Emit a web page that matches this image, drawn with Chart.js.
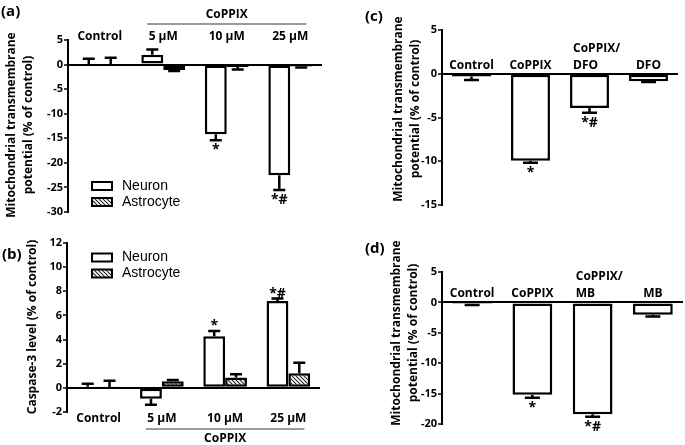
<!DOCTYPE html>
<html>
<head>
<meta charset="utf-8">
<script src="https://cdn.jsdelivr.net/npm/chart.js@4/dist/chart.umd.min.js"></script>
<style>
  html, body { margin: 0; padding: 0; background: #fff; }
  body { width: 685px; height: 445px; position: relative; overflow: hidden; }
  canvas { position: absolute; }
</style>
</head>
<body>
<canvas id="chart-a" width="345" height="220" style="left:0;top:0"></canvas>
<canvas id="chart-b" width="345" height="225" style="left:0;top:220px"></canvas>
<canvas id="chart-c" width="340" height="220" style="left:345px;top:0"></canvas>
<canvas id="chart-d" width="340" height="225" style="left:345px;top:220px"></canvas>
<script>
// (a) mitochondrial potential, neuron vs astrocyte
const concentrations = ['Control', '5 µM', '10 µM', '25 µM']
const mmpNeuron = [0, 2.0, -14.2, -22.5]
const mmpNeuronErr = [1.2, 1.05, 1.2, 3.0]
const mmpNeuronStars = ['', '', '*', '*#']
const mmpAstro = [0, -1.1, -0.5, -0.4]
const mmpAstroErr = [1.4, 0.2, 0.5, 0.2]

// (b) caspase-3
const casNeuron = [0.1, -0.9, 4.28, 7.2]
const casNeuronErr = [0.25, 0.5, 0.44, 0.2]
const casNeuronStars = ['', '', '*', '*#']
const casAstro = [0.08, 0.55, 0.86, 1.2]
const casAstroErr = [0.5, 0.1, 0.27, 0.87]

// (c) DFO
const dfoGroups = ['Control', 'CoPPIX', ['CoPPIX/', 'DFO'], 'DFO']
const dfoValues = [-0.3, -9.94, -3.9, -0.85]
const dfoErr = [0.4, 0.22, 0.55, 0.1]
const dfoStars = ['', '*', '*#', '']

// (d) MB
const mbGroups = ['Control', 'CoPPIX', ['CoPPIX/', 'MB'], 'MB']
const mbValues = [-0.27, -15.2, -18.4, -2.05]
const mbErr = [0.17, 0.5, 0.4, 0.25]
const mbStars = ['', '*', '*#', '']

const mmpTitle = ['Mitochondrial transmembrane', 'potential (% of control)']
const casTitle = ['Caspase-3 level (% of control)']

const BOLD = '"Open Sans", "DejaVu Sans", sans-serif'
const PLAIN = '"Liberation Sans", Arial, sans-serif'

function makeHatch() {
  const c = document.createElement('canvas')
  c.width = 4
  c.height = 4
  const g = c.getContext('2d')
  g.fillStyle = '#fff'
  g.fillRect(0, 0, 4, 4)
  g.strokeStyle = '#222'
  g.lineWidth = 1.1
  g.beginPath()
  g.moveTo(-1, -1); g.lineTo(5, 5)
  g.moveTo(3, -1); g.lineTo(5, 1)
  g.moveTo(-1, 3); g.lineTo(1, 5)
  g.stroke()
  return g.createPattern(c, 'repeat')
}
const hatch = makeHatch()

const panelDeco = {
  id: 'panelDeco',
  afterDraw(chart, args, o) {
    const { ctx, chartArea: area } = chart
    const xs = chart.scales.x
    const ys = chart.scales.y
    ctx.save()

    // error bars + significance marks
    chart.data.datasets.forEach((ds, di) => {
      chart.getDatasetMeta(di).data.forEach((bar, i) => {
        const v = ds.data[i]
        const end = v < 0 ? v - ds.errors[i] : v + ds.errors[i]
        const py0 = ys.getPixelForValue(v)
        const py1 = ys.getPixelForValue(end)
        ctx.strokeStyle = '#000'
        ctx.lineWidth = 2.5
        ctx.beginPath()
        ctx.moveTo(bar.x, py0)
        ctx.lineTo(bar.x, py1)
        ctx.moveTo(bar.x - o.cap / 2, py1)
        ctx.lineTo(bar.x + o.cap / 2, py1)
        ctx.stroke()
        const star = ds.stars && ds.stars[i]
        if (star) {
          ctx.font = `bold 14px ${BOLD}`
          ctx.fillStyle = '#000'
          ctx.textAlign = 'center'
          ctx.textBaseline = 'alphabetic'
          ctx.fillText(star, bar.x, end < 0 ? py1 + 14 : py1 - 1)
        }
      })
    })

    // category labels
    ctx.font = `bold 12px ${BOLD}`
    ctx.fillStyle = '#000'
    ctx.textBaseline = 'alphabetic'
    let base = area.top
    if (o.labelPos === 'bottom') base = area.bottom + 9.5
    if (o.labelPos === 'zero') base = ys.getPixelForValue(0) - 5
    chart.data.labels.forEach((lab, i) => {
      if (Array.isArray(lab)) {
        const bar = chart.getDatasetMeta(0).data[i]
        ctx.textAlign = 'left'
        lab.forEach((line, k) => {
          ctx.fillText(line, bar.x - bar.width / 2 + 3, base - (lab.length - 1 - k) * 17)
        })
      } else {
        ctx.textAlign = 'center'
        ctx.fillText(lab, xs.getPixelForValue(i), base)
      }
    })

    // CoPPIX bracket
    if (o.bracket) {
      const x0 = xs.getPixelForValue(1) - 16
      const x1 = xs.getPixelForValue(3) + 16
      ctx.strokeStyle = '#777'
      ctx.lineWidth = 1.5
      ctx.beginPath()
      ctx.moveTo(x0, o.bracket.lineY)
      ctx.lineTo(x1, o.bracket.lineY)
      ctx.stroke()
      ctx.textAlign = 'center'
      ctx.fillText(o.bracket.text, (x0 + x1) / 2, o.bracket.textY)
    }

    // legend
    if (o.legend) {
      chart.data.datasets.forEach((ds, di) => {
        const ly = o.legend.y + di * o.legend.gap
        ctx.fillStyle = ds.backgroundColor
        ctx.fillRect(o.legend.x, ly - 4, 20, 8)
        ctx.strokeStyle = '#000'
        ctx.lineWidth = 2
        ctx.strokeRect(o.legend.x, ly - 4, 20, 8)
        ctx.fillStyle = '#000'
        ctx.font = `14px ${PLAIN}`
        ctx.textAlign = 'left'
        ctx.textBaseline = 'middle'
        ctx.fillText(ds.label, o.legend.x + 30, ly)
      })
    }

    // y title
    ctx.fillStyle = '#000'
    ctx.font = `bold 12px ${BOLD}`
    ctx.textAlign = 'center'
    ctx.textBaseline = 'alphabetic'
    o.yTitle.lines.forEach((line, k) => {
      ctx.save()
      ctx.translate(o.yTitle.x[k], o.yTitle.y)
      ctx.rotate(-Math.PI / 2)
      ctx.fillText(line, 0, 0)
      ctx.restore()
    })

    // panel tag
    ctx.font = `bold 15px ${BOLD}`
    ctx.textAlign = 'left'
    ctx.fillText(o.tag.text, o.tag.x, o.tag.y)

    ctx.restore()
  }
}
Chart.register(panelDeco)

function getBaseOptions({ yMin, yMax, step, yWidth, padding, deco }) {
  return {
    responsive: false,
    animation: false,
    devicePixelRatio: 1,
    layout: { padding },
    plugins: {
      legend: { display: false },
      tooltip: { enabled: false },
      panelDeco: deco
    },
    scales: {
      x: { display: false },
      y: {
        min: yMin,
        max: yMax,
        afterFit: s => { s.width = yWidth },
        border: { display: true, color: '#000', width: 2 },
        grid: {
          color: c => (c.tick && c.tick.value === 0 ? '#000' : 'rgba(0,0,0,0)'),
          lineWidth: 2,
          tickColor: '#000',
          tickLength: 4,
          tickWidth: 1.5
        },
        ticks: {
          stepSize: step,
          color: '#000',
          padding: 1,
          font: { family: BOLD, weight: 'bold', size: 11 }
        }
      }
    }
  }
}

function barSet(label, data, errors, stars, fill, pct) {
  return {
    label,
    data,
    errors,
    stars,
    backgroundColor: fill,
    borderColor: '#000',
    borderWidth: 2.5,
    borderSkipped: false,
    categoryPercentage: pct,
    barPercentage: 1
  }
}

new Chart(document.getElementById('chart-a'), {
  type: 'bar',
  data: {
    labels: concentrations,
    datasets: [
      barSet('Neuron', mmpNeuron, mmpNeuronErr, mmpNeuronStars, '#fff', 0.69),
      barSet('Astrocyte', mmpAstro, mmpAstroErr, null, hatch, 0.69)
    ]
  },
  options: getBaseOptions({
    yMin: -30, yMax: 5, step: 5, yWidth: 68,
    padding: { top: 40, bottom: 8, right: 23, left: 0 },
    deco: {
      cap: 12,
      labelPos: 'top',
      bracket: { text: 'CoPPIX', lineY: 24, textY: 18 },
      legend: { x: 92, y: 186, gap: 16 },
      yTitle: { lines: mmpTitle, x: [15, 32], y: 125 },
      tag: { text: '(a)', x: 1, y: 16 }
    }
  })
})

new Chart(document.getElementById('chart-b'), {
  type: 'bar',
  data: {
    labels: concentrations,
    datasets: [
      barSet('Neuron', casNeuron, casNeuronErr, casNeuronStars, '#fff', 0.69),
      barSet('Astrocyte', casAstro, casAstroErr, null, hatch, 0.69)
    ]
  },
  options: getBaseOptions({
    yMin: -2, yMax: 12, step: 2, yWidth: 67,
    padding: { top: 23, bottom: 33, right: 25, left: 0 },
    deco: {
      cap: 12,
      labelPos: 'bottom',
      bracket: { text: 'CoPPIX', lineY: 209, textY: 222 },
      legend: { x: 92, y: 37.5, gap: 16 },
      yTitle: { lines: casTitle, x: [36], y: 107 },
      tag: { text: '(b)', x: 2, y: 39 }
    }
  })
})

new Chart(document.getElementById('chart-c'), {
  type: 'bar',
  data: {
    labels: dfoGroups,
    datasets: [barSet('MMP', dfoValues, dfoErr, dfoStars, '#fff', 0.66)]
  },
  options: getBaseOptions({
    yMin: -15, yMax: 5, step: 5, yWidth: 97,
    padding: { top: 30, bottom: 15, right: 7, left: 0 },
    deco: {
      cap: 15,
      labelPos: 'zero',
      yTitle: { lines: mmpTitle, x: [57, 74], y: 109 },
      tag: { text: '(c)', x: 20, y: 21 }
    }
  })
})

new Chart(document.getElementById('chart-d'), {
  type: 'bar',
  data: {
    labels: mbGroups,
    datasets: [barSet('MMP', mbValues, mbErr, mbStars, '#fff', 0.66)]
  },
  options: getBaseOptions({
    yMin: -20, yMax: 5, step: 5, yWidth: 97,
    padding: { top: 52, bottom: 21, right: 2, left: 0 },
    deco: {
      cap: 15,
      labelPos: 'zero',
      yTitle: { lines: mmpTitle, x: [55, 72], y: 113 },
      tag: { text: '(d)', x: 20, y: 33 }
    }
  })
})
</script>
</body>
</html>
